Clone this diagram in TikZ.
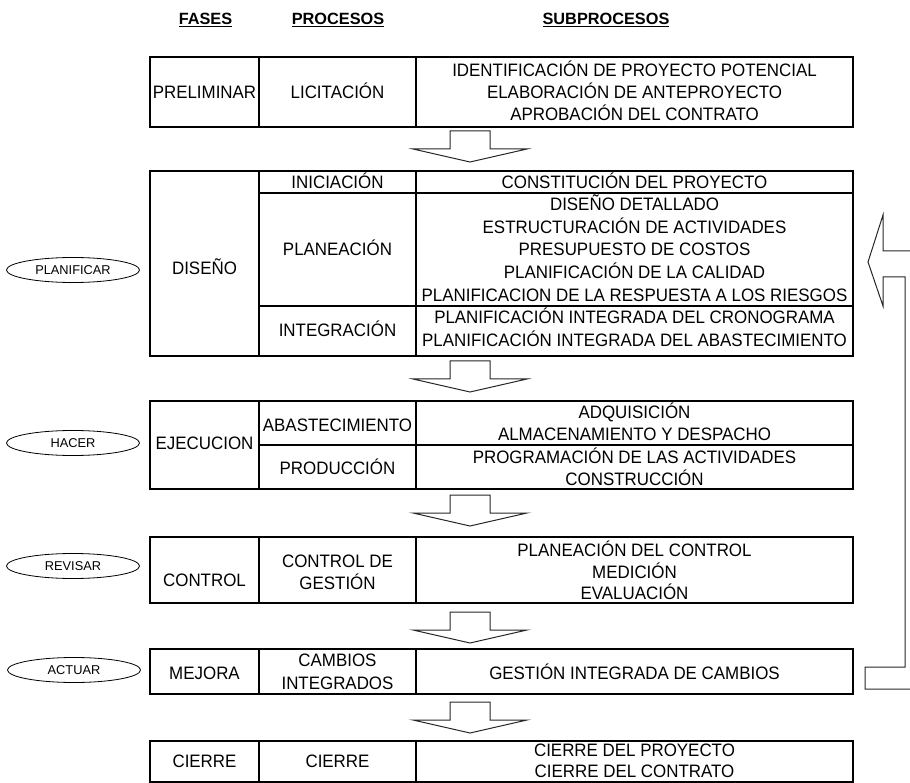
\documentclass[tikz,border=0pt]{standalone}
\usepackage{fontspec}
\setmainfont{Liberation Sans}[FakeStretch=0.94]
\newfontfamily\plainarial{Liberation Sans}
\usetikzlibrary{shapes.geometric}
\begin{document}
\begin{tikzpicture}[x=1pt,y=-1pt,
 tbl/.style={line width=2pt, line join=miter},
 divline/.style={line width=1.3pt},
 txt/.style={font=\fontsize{18}{22}\selectfont, inner sep=0pt, anchor=base},
 hdr/.style={font=\plainarial\fontsize{16.3}{18}\selectfont\bfseries, inner sep=0pt, anchor=base},
 oval/.style={ellipse, draw, line width=0.8pt, minimum width=133pt, minimum height=25pt, inner sep=0pt, font=\plainarial\fontsize{12.8}{14}\selectfont},
 blk/.style={draw=black!85, line width=1pt, line join=miter},
 blockdown/.pic={\draw[blk] (-20,0) -- (-20,18) -- (-57,18) -- (0,31) -- (57,18) -- (20,18) -- (20,0) -- cycle;}
]
\useasboundingbox (0,0) rectangle (910,783);

% headers
\node[hdr] (hf) at (205.5,25) {\underline{FASES}};
\node[hdr] (hp) at (338,25) {\underline{PROCESOS}};
\node[hdr] (hs) at (606,25) {\underline{SUBPROCESOS}};

% column x: 150, 259, 416, 853 ; centers 204.5, 337.5, 634.5
% ---------- table 1
\draw[tbl] (150,57) rectangle (853,127);
\draw[divline] (259,57) -- (259,127) (416,57) -- (416,127);
\node[txt] (f1) at (204.5,99) {PRELIMINAR};
\node[txt] (p1) at (337.5,99) {LICITACIÓN};
\foreach \t/\y [count=\i] in {IDENTIFICACIÓN DE PROYECTO POTENCIAL/71,ELABORACIÓN DE ANTEPROYECTO/93,APROBACIÓN DEL CONTRATO/115}
  \node[txt] (s1\i) at (634.5,\y+6) {\t};

% ---------- table 2
\draw[tbl] (150,171) rectangle (853,356);
\draw[divline] (259,171) -- (259,356) (416,171) -- (416,356)
  (259,193) -- (853,193) (259,306) -- (853,306);
\node[txt] (f2) at (204.5,275) {DISEÑO};
\node[txt] (p2a) at (337.5,189) {INICIACIÓN};
\node[txt] (p2b) at (337.5,256) {PLANEACIÓN};
\node[txt] (p2c) at (337.5,337) {INTEGRACIÓN};
\foreach \t/\y [count=\i] in {CONSTITUCIÓN DEL PROYECTO/183,DISEÑO DETALLADO/205,ESTRUCTURACIÓN DE ACTIVIDADES/227.5,PRESUPUESTO DE COSTOS/250,PLANIFICACIÓN DE LA CALIDAD/273,PLANIFICACION DE LA RESPUESTA A LOS RIESGOS/296,PLANIFICACIÓN INTEGRADA DEL CRONOGRAMA/318,PLANIFICACIÓN INTEGRADA DEL ABASTECIMIENTO/341}
  \node[txt] (s2\i) at (634.5,\y+6) {\t};

% ---------- table 3
\draw[tbl] (150,401) rectangle (853,489);
\draw[divline] (259,401) -- (259,489) (416,401) -- (416,489) (259,445) -- (853,445);
\node[txt] (f3) at (204.5,449) {EJECUCION};
\node[txt] (p3a) at (337.5,431) {ABASTECIMIENTO};
\node[txt] (p3b) at (337.5,474) {PRODUCCIÓN};
\foreach \t/\y [count=\i] in {ADQUISICIÓN/412,ALMACENAMIENTO Y DESPACHO/434,PROGRAMACIÓN DE LAS ACTIVIDADES/457,CONSTRUCCIÓN/479}
  \node[txt] (s3\i) at (634.5,\y+6) {\t};

% ---------- table 4
\draw[tbl] (150,537) rectangle (853,603);
\draw[divline] (259,537) -- (259,603) (416,537) -- (416,603);
\node[txt] (f4) at (204.5,586) {CONTROL};
\node[txt] (p4a) at (337.5,567) {CONTROL DE};
\node[txt] (p4b) at (337.5,589) {GESTIÓN};
\foreach \t/\y [count=\i] in {PLANEACIÓN DEL CONTROL/550,MEDICIÓN/572,EVALUACIÓN/593}
  \node[txt] (s4\i) at (634.5,\y+6) {\t};

% ---------- table 5
\draw[tbl] (150,649) rectangle (853,694);
\draw[divline] (259,649) -- (259,694) (416,649) -- (416,694);
\node[txt] (f5) at (204.5,679) {MEJORA};
\node[txt] (p5a) at (337.5,666) {CAMBIOS};
\node[txt] (p5b) at (337.5,689) {INTEGRADOS};
\node[txt] (s51) at (634.5,679) {GESTIÓN INTEGRADA DE CAMBIOS};

% ---------- table 6
\draw[tbl] (150,741) rectangle (853,782);
\draw[divline] (259,741) -- (259,782) (416,741) -- (416,782);
\node[txt] (f6) at (204.5,767) {CIERRE};
\node[txt] (p6) at (337.5,767) {CIERRE};
\foreach \t/\y [count=\i] in {CIERRE DEL PROYECTO/750,CIERRE DEL CONTRATO/771}
  \node[txt] (s6\i) at (634.5,\y+6) {\t};

% ---------- down block arrows
\pic at (470,131) {blockdown};
\pic at (470,361) {blockdown};
\pic at (470,495) {blockdown};
\pic at (470,612) {blockdown};
\pic at (470,702) {blockdown};

% ---------- ovals
\node[oval] (e1) at (73,270) {PLANIFICAR};
\node[oval] (e2) at (73,443) {HACER};
\node[oval] (e3) at (73,566) {REVISAR};
\node[oval] (e4) at (74,670) {ACTUAR};

% ---------- feedback arrow
\draw[blk] (910,251) -- (883,251) -- (883,215) -- (868,262) -- (883,306) -- (883,277)
  -- (905,277) -- (905,667) -- (865,667) -- (865,689) -- (910,689);
\end{tikzpicture}
\end{document}
